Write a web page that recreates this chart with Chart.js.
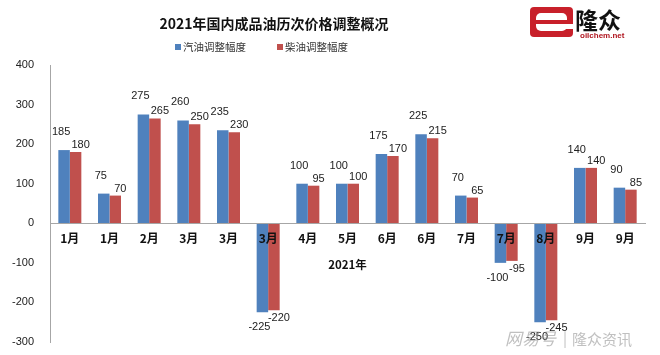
<!DOCTYPE html>
<html>
<head>
<meta charset="utf-8">
<script src="https://cdn.jsdelivr.net/npm/chart.js@4.4.1/dist/chart.umd.min.js"></script>
<style>
html,body{margin:0;padding:0;background:#fff;}
#wrap{width:660px;height:355px;position:relative;}
</style>
</head>
<body>
<div id="wrap"><canvas id="c" width="660" height="355"></canvas></div>
<script>
const chartTitle = "2021年国内成品油历次价格调整概况";
const axisTitle = "2021年";
const categories = ["1月","1月","2月","3月","3月","3月","4月","5月","6月","6月","7月","7月","8月","9月","9月"];
const seriesNames = ["汽油调整幅度","柴油调整幅度"];
const gasoline = [185,75,275,260,235,-225,100,100,175,225,70,-100,-250,140,90];
const diesel   = [180,70,265,250,230,-220,95,100,170,215,65,-95,-245,140,85];
const yTicks = [-300,-200,-100,0,100,200,300,400];

const BLUE = "#4F81BD", RED = "#C0504D";
const CJK = '"Noto Sans CJK SC", "Liberation Sans", sans-serif';
const NUM = '"Liberation Sans", Arial, sans-serif';

const decor = {
  id: "decor",
  afterDraw(chart) {
    const ctx = chart.ctx;
    const area = chart.chartArea;
    ctx.save();
    // data labels
    const offs = [{dx:-3, up:-18, down:15}, {dx:5, up:-7, down:8}];
    chart.data.datasets.forEach((ds, di) => {
      const meta = chart.getDatasetMeta(di);
      meta.data.forEach((el, i) => {
        const v = ds.data[i];
        const o = offs[di];
        ctx.font = "11px " + NUM;
        ctx.fillStyle = "#222";
        ctx.textAlign = "center";
        ctx.textBaseline = "middle";
        ctx.fillText(String(v), el.x + o.dx, el.y + (v >= 0 ? o.up : o.down));
      });
    });
    // chart title
    ctx.font = "bold 14px " + CJK;
    ctx.fillStyle = "#111";
    ctx.textAlign = "center";
    ctx.textBaseline = "middle";
    ctx.fillText(chartTitle, 274, 24);
    // legend
    ctx.font = "10.5px " + CJK;
    ctx.textAlign = "left";
    chart.data.datasets.forEach((ds, di) => {
      const x = 175 + di * 102;
      ctx.fillStyle = ds.backgroundColor;
      ctx.fillRect(x, 44, 6, 6);
      ctx.fillStyle = "#333";
      ctx.fillText(ds.label, x + 8, 47);
    });
    // x axis title
    ctx.font = "bold 11.5px " + CJK;
    ctx.fillStyle = "#111";
    ctx.textAlign = "center";
    ctx.fillText(axisTitle, (area.left + area.right) / 2, 265);
    // logo
    const lx = 530, ly = 7, lw = 43, lh = 30;
    ctx.fillStyle = "#C8202A";
    ctx.beginPath(); ctx.roundRect(lx, ly, lw, lh, 4); ctx.fill();
    ctx.fillStyle = "#fff";
    ctx.beginPath(); ctx.roundRect(lx + 6, ly + 6, lw - 12, lh - 12, 5); ctx.fill();
    ctx.fillStyle = "#C8202A";
    ctx.fillRect(lx + 6, ly + lh / 2 - 2, lw - 12, 4);
    ctx.fillStyle = "#fff";
    ctx.fillRect(lx + lw - 10, ly + lh / 2 + 2, 10, 5);
    ctx.font = "bold 23px " + CJK;
    ctx.fillStyle = "#111";
    ctx.textAlign = "left";
    ctx.textBaseline = "alphabetic";
    ctx.fillText("隆众", 575, 29);
    ctx.font = "bold 8px " + NUM;
    ctx.fillStyle = "#B0141E";
    ctx.fillText("oilchem.net", 580, 38);
    // watermark
    ctx.fillStyle = "rgba(140,140,140,0.55)";
    ctx.font = "italic 17px " + CJK;
    ctx.textBaseline = "middle";
    ctx.fillText("网易号", 505, 339);
    ctx.font = "15px " + CJK;
    ctx.fillText("|", 563, 338);
    ctx.fillText("隆众资讯", 572, 339);
    ctx.restore();
  }
};

new Chart(document.getElementById("c"), {
  type: "bar",
  data: {
    labels: categories,
    datasets: [
      { label: seriesNames[0], data: gasoline, backgroundColor: BLUE, borderWidth: 0 },
      { label: seriesNames[1], data: diesel, backgroundColor: RED, borderWidth: 0 }
    ]
  },
  options: {
    responsive: false,
    animation: false,
    devicePixelRatio: 1,
    layout: { padding: { left: 0, right: 15, top: 65, bottom: 13 } },
    datasets: { bar: { categoryPercentage: 0.58, barPercentage: 1.0 } },
    plugins: { legend: { display: false }, title: { display: false }, tooltip: { enabled: false } },
    scales: {
      x: {
        position: { y: 0 },
        grid: { display: false, drawTicks: false },
        border: { display: true, color: "#a6a6a6", width: 1, z: 1 },
        ticks: { z: 2, padding: 8, maxRotation: 0, autoSkip: false, color: "#111", font: { family: CJK, size: 12, weight: "bold" } },
        afterFit(s) { s.height = 0; }
      },
      y: {
        min: -300, max: 400,
        afterBuildTicks(s) { s.ticks = yTicks.map(v => ({ value: v })); },
        afterFit(s) { s.width = 50; s.paddingTop = 0; s.paddingBottom = 0; },
        grid: { display: false, drawTicks: false },
        border: { display: true, color: "#a6a6a6", width: 1 },
        ticks: { padding: 16, color: "#222", font: { family: NUM, size: 11 } }
      }
    }
  },
  plugins: [decor]
});
</script>
</body>
</html>
